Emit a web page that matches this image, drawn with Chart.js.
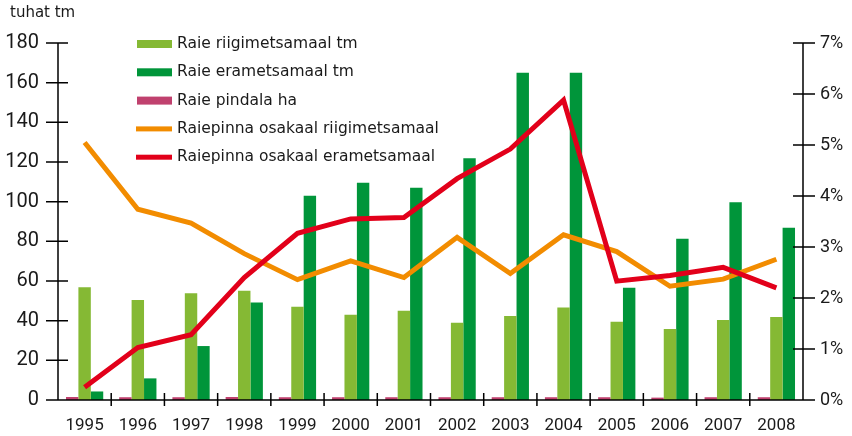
<!DOCTYPE html>
<html lang="et">
<head>
    <meta charset="UTF-8">
    <title>Raie</title>
    <script src="https://cdn.jsdelivr.net/npm/chart.js"></script>
    <style>
        body {
            margin: 0;
            background: #fff;
        }
        .wrap {
            position: relative;
            width: 852px;
            height: 436px;
        }
        .unit {
            position: absolute;
            left: 10px;
            top: 3px;
            font: 15px "DejaVu Sans", sans-serif;
            color: #1a1a1a;
        }
    </style>
</head>
<body>
<div class="wrap">
    <canvas id="raieChart" width="852" height="436"></canvas>
    <div class="unit">tuhat tm</div>
</div>
<script>
    const aastad = ['1995', '1996', '1997', '1998', '1999', '2000', '2001', '2002', '2003', '2004', '2005', '2006', '2007', '2008'];
    // tuhat tm (vasak telg)
    const raieRiigi = [56.8, 50.4, 53.8, 55.1, 47.0, 43.0, 45.0, 39.0, 42.4, 46.6, 39.4, 35.8, 40.3, 41.9];
    const raieEra = [4.3, 10.9, 27.2, 49.1, 103.0, 109.6, 107.0, 121.9, 165.0, 165.0, 56.6, 81.3, 99.7, 86.9];
    const raiePindala = [1.5, 1.4, 1.4, 1.5, 1.4, 1.4, 1.4, 1.4, 1.4, 1.4, 1.4, 1.2, 1.4, 1.4];
    // protsent (parem telg)
    const osakaalRiigi = [5.05, 3.74, 3.47, 2.87, 2.36, 2.73, 2.40, 3.19, 2.48, 3.24, 2.91, 2.23, 2.37, 2.76];
    const osakaalEra = [0.25, 1.03, 1.28, 2.40, 3.27, 3.55, 3.58, 4.34, 4.92, 5.88, 2.33, 2.44, 2.60, 2.20];

    const legendOrder = [1, 2, 0, 3, 4];

    const axesPlugin = {
        id: 'axesPlugin',
        afterDatasetsDraw(chart) {
            const ctx = chart.ctx;
            const a = chart.chartArea;
            const x = chart.scales.x, y = chart.scales.y, y2 = chart.scales.y2;
            ctx.save();
            ctx.strokeStyle = '#000';
            ctx.lineWidth = 1.5;
            ctx.beginPath();
            ctx.moveTo(a.left, a.top); ctx.lineTo(a.left, a.bottom);
            ctx.moveTo(a.right, a.top); ctx.lineTo(a.right, a.bottom);
            ctx.moveTo(a.left - 3, a.bottom); ctx.lineTo(a.right + 2, a.bottom);
            y.ticks.forEach(t => {
                const py = y.getPixelForValue(t.value);
                ctx.moveTo(a.left - 12, py); ctx.lineTo(a.left + 10, py);
            });
            y2.ticks.forEach(t => {
                const py = y2.getPixelForValue(t.value);
                ctx.moveTo(a.right - 10, py); ctx.lineTo(a.right + 12, py);
            });
            for (let i = 1; i < aastad.length; i++) {
                const px = (x.getPixelForValue(i - 1) + x.getPixelForValue(i)) / 2;
                ctx.moveTo(px, a.bottom - 7); ctx.lineTo(px, a.bottom + 6);
            }
            ctx.stroke();

            // legend
            ctx.font = '15.5px "DejaVu Sans", sans-serif';
            ctx.textBaseline = 'middle';
            legendOrder.forEach((di, k) => {
                const ds = chart.data.datasets[di];
                const cy = 44 + k * 28.3;
                ctx.fillStyle = ds.type === 'line' ? ds.borderColor : ds.backgroundColor;
                if (ds.type === 'line') {
                    ctx.fillRect(136, cy - 2.5, 36, 5);
                } else {
                    ctx.fillRect(137, cy - 4, 35, 8);
                }
                ctx.fillStyle = '#1a1a1a';
                ctx.fillText(ds.label, 177, cy);
            });
            ctx.restore();
        }
    };

    new Chart(document.getElementById('raieChart'), {
        data: {
            labels: aastad,
            datasets: [
                { type: 'bar', label: 'Raie pindala ha', data: raiePindala, backgroundColor: '#c0416e', yAxisID: 'y', order: 2 },
                { type: 'bar', label: 'Raie riigimetsamaal tm', data: raieRiigi, backgroundColor: '#85b934', yAxisID: 'y', order: 2 },
                { type: 'bar', label: 'Raie erametsamaal tm', data: raieEra, backgroundColor: '#00953a', yAxisID: 'y', order: 2 },
                { type: 'line', label: 'Raiepinna osakaal riigimetsamaal', data: osakaalRiigi, borderColor: '#f28c00', borderWidth: 5, pointRadius: 0, tension: 0, yAxisID: 'y2', order: 1 },
                { type: 'line', label: 'Raiepinna osakaal erametsamaal', data: osakaalEra, borderColor: '#e2001a', borderWidth: 5, pointRadius: 0, tension: 0, yAxisID: 'y2', order: 0 }
            ]
        },
        options: {
            responsive: false,
            animation: false,
            layout: { padding: { top: 43, left: 0, right: 0, bottom: 0 } },
            datasets: { bar: { categoryPercentage: 0.7, barPercentage: 1.0 } },
            plugins: { legend: { display: false }, tooltip: { enabled: false } },
            scales: {
                x: {
                    grid: { display: false, drawTicks: false },
                    border: { display: false },
                    ticks: { color: '#1a1a1a', font: { family: 'Roboto', size: 17 }, padding: 16 },
                    afterFit(s) { s.height = 36; }
                },
                y: {
                    position: 'left',
                    min: 0, max: 180,
                    grid: { display: false, drawTicks: false },
                    border: { display: false },
                    ticks: { stepSize: 20, color: '#1a1a1a', font: { family: 'Roboto', size: 20 }, padding: 19 },
                    afterFit(s) { s.width = 58; }
                },
                y2: {
                    position: 'right',
                    min: 0, max: 7,
                    grid: { display: false, drawTicks: false },
                    border: { display: false },
                    ticks: { stepSize: 1, color: '#1a1a1a', font: { family: 'Roboto', size: 18 }, padding: 17, callback: v => v + '%' },
                    afterFit(s) { s.width = 49; }
                }
            }
        },
        plugins: [axesPlugin]
    });
</script>
</body>
</html>
